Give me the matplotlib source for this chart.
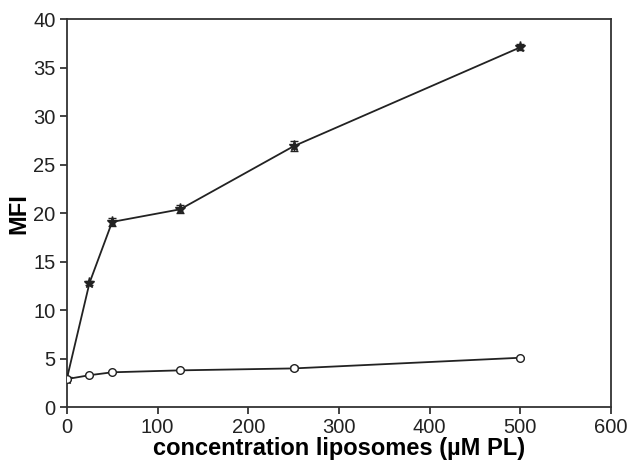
import numpy as np
import matplotlib
matplotlib.use('Agg')
import matplotlib.pyplot as plt

plt.rcParams['font.family'] = ['Liberation Sans', 'DejaVu Sans']

# data
conc = [0, 25, 50, 125, 250, 500]
mfi_upper = [2.9, 12.8, 19.1, 20.4, 26.9, 37.1]
err_upper = [0.1, 0.2, 0.4, 0.4, 0.5, 0.3]
mfi_lower = [2.9, 3.3, 3.6, 3.8, 4.0, 5.1]
err_lower = [0.1, 0.1, 0.1, 0.1, 0.2, 0.1]

fig = plt.figure(figsize=(6.3, 4.67), dpi=100)
ax = fig.add_axes([0.106, 0.128, 0.864, 0.831])

ax.errorbar(conc, mfi_upper, yerr=err_upper, color='#222222', lw=1.3,
            marker='*', markersize=8, markerfacecolor='#222222',
            capsize=3, elinewidth=1, zorder=3)
ax.errorbar(conc, mfi_lower, yerr=err_lower, color='#222222', lw=1.3,
            marker='o', markersize=5.5, markerfacecolor='white',
            markeredgewidth=1, capsize=3, elinewidth=1, zorder=3)

ax.set_xlim(0, 600)
ax.set_ylim(0, 40)
ax.set_xticks(np.arange(0, 601, 100))
ax.set_yticks(np.arange(0, 41, 5))
ax.tick_params(direction='out', length=5, width=1.2, labelsize=14.5, colors='#222222', pad=3)
for s in ax.spines.values():
    s.set_linewidth(1.3)
    s.set_color('#333333')

ax.set_xlabel('concentration liposomes (µM PL)', fontsize=17, fontweight='bold', labelpad=0)
ax.set_ylabel('MFI', fontsize=17, fontweight='bold', labelpad=2)

fig.savefig('out.png', dpi=100)
